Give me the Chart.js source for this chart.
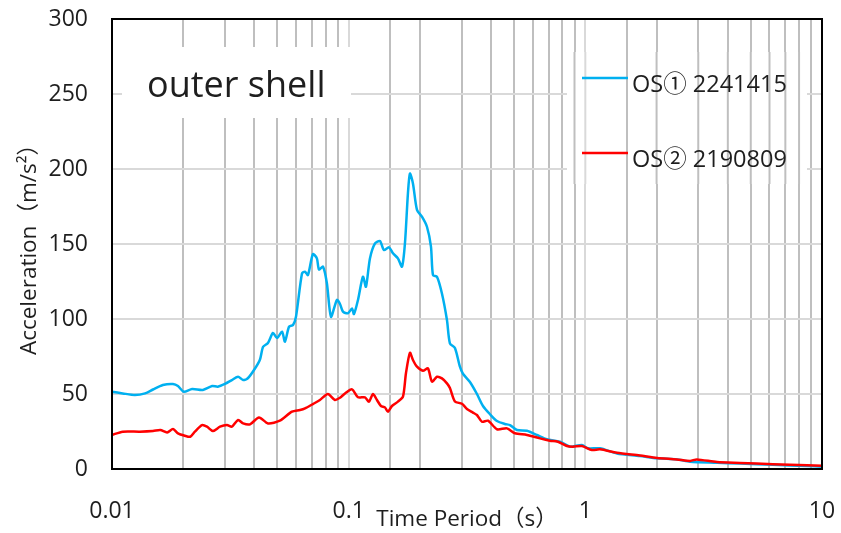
<!DOCTYPE html>
<html>
<head>
<meta charset="utf-8">
<script src="https://cdn.jsdelivr.net/npm/chart.js@4.4.1/dist/chart.umd.min.js"></script>
<style>
  html, body { margin: 0; padding: 0; background: #fff; }
</style>
</head>
<body>
<canvas id="spectrumChart" width="841" height="533"></canvas>
<script>
// response spectrum, outer shell, two records

const seriesNames = ['OS\u2460 2241415', 'OS\u2461 2190809'];
const seriesColors = ['#00b0f0', '#ff0000'];

// OS(1) 2241415  -- period (s) / acceleration (m/s2)
const periods1 = [0.01, 0.0111, 0.0125, 0.0138, 0.0149, 0.0164, 0.0181, 0.019, 0.0201, 0.0218,
  0.0242, 0.0265, 0.028, 0.030, 0.0321, 0.0341, 0.0358, 0.0375, 0.0402, 0.0422,
  0.0435, 0.0456, 0.0479, 0.0498, 0.0523, 0.0538, 0.056, 0.0582, 0.0599, 0.0635,
  0.0654, 0.0673, 0.0706, 0.0734, 0.0749, 0.0779, 0.0809, 0.0842, 0.0892, 0.0919,
  0.0946, 0.0993, 0.1033, 0.1053, 0.1095, 0.1149, 0.1183, 0.123, 0.1292, 0.1356,
  0.141, 0.148, 0.1539, 0.1615, 0.168, 0.1729, 0.178, 0.1815, 0.1869, 0.1944,
  0.204, 0.2142, 0.2227, 0.2271, 0.2361, 0.2478, 0.2602, 0.2678, 0.2812, 0.2952,
  0.304, 0.3254, 0.3484, 0.3694, 0.3955, 0.4233, 0.4575, 0.4803, 0.5141, 0.5666,
  0.6244, 0.6882, 0.7811, 0.8609, 0.9675, 1.026, 1.153, 1.36, 1.70, 2.01,
  2.44, 2.77, 3.60, 4.50, 6.20, 8.64, 10];
const accel1 = [51.5, 50.4, 49.3, 50.4, 53, 56, 56.7, 55.3, 51.5, 53.3,
  52.7, 55.3, 54.9, 56.7, 59.3, 61.5, 59.3, 60.5, 67, 73,
  81.5, 84, 90.7, 87.3, 91.5, 84.9, 94.9, 96, 101.5, 130.4,
  131.5, 129.3, 143.3, 140.4, 133, 134.9, 123.8, 101.5, 112.7, 110,
  104.9, 103.8, 107, 103.3, 112.7, 128.2, 121.5, 140.4, 150.4, 152,
  146, 147.8, 143.8, 140.4, 134.9, 150.4, 183.8, 197, 190.4, 172.7,
  168.2, 161.5, 148.2, 129.3, 128.2, 117, 99.3, 83.8, 80.7, 68.2,
  63.5, 58, 50, 42, 36.5, 32, 30, 29.3, 26, 25.5,
  22.7, 19.8, 18.2, 14.9, 16, 13.8, 13.8, 10.4, 8.7, 7.1,
  6.4, 4.9, 4.2, 3.6, 2.8, 2.0, 1.5];

// OS(2) 2190809
const periods2 = [0.01, 0.0111, 0.0131, 0.0149, 0.016, 0.0171, 0.0181, 0.019, 0.0203, 0.0214,
  0.0224, 0.024, 0.0252, 0.0267, 0.0286, 0.0306, 0.0321, 0.0341, 0.0358, 0.0383,
  0.0418, 0.0456, 0.0512, 0.0576, 0.0623, 0.0654, 0.0706, 0.0756, 0.0817, 0.0875,
  0.0919, 0.0965, 0.1033, 0.1095, 0.1172, 0.1218, 0.1267, 0.1317, 0.1369, 0.1423,
  0.1466, 0.1524, 0.1615, 0.1696, 0.1746, 0.1815, 0.1869, 0.1944, 0.206, 0.2163,
  0.2249, 0.2361, 0.2478, 0.2602, 0.2678, 0.2812, 0.301, 0.3161, 0.335, 0.3484,
  0.3658, 0.3878, 0.4233, 0.4665, 0.5042, 0.5666, 0.643, 0.7086, 0.7661, 0.8361,
  0.8863, 0.9675, 1.066, 1.153, 1.36, 1.70, 2.01, 2.44, 2.77, 2.96,
  3.60, 4.50, 6.20, 8.64, 10];
const accel2 = [22.7, 24.9, 24.9, 25.3, 26, 24.4, 26.7, 23.8, 22.2, 21.5,
  24.9, 29.3, 28.2, 25.3, 28.2, 29.3, 28.2, 32.7, 30.4, 29.8,
  34.4, 30.4, 32.2, 38.2, 39.3, 40.4, 43.3, 46, 50, 46,
  47.5, 50.4, 53.1, 47.8, 47.8, 44.9, 50, 46, 42, 41.1,
  38.2, 42, 44.9, 48.2, 63.8, 77.5, 72.7, 68.2, 65.5, 67.1,
  58.2, 61.5, 60.4, 57.1, 54, 45, 43.5, 40, 37.6, 36,
  31.5, 32.2, 26.5, 27.1, 23.8, 22.7, 20.4, 18.9, 18.2, 15.3,
  14.9, 15.3, 12.7, 13.1, 10.8, 9, 7.4, 6.4, 5.4, 6.4,
  4.6, 4, 3.2, 2.5, 2.2];

const xTickLabels = ['0.01', '0.1', '1', '10'];
const boxTitle = 'outer shell';

const fontFamily = '"Open Sans", "Noto Sans CJK SC", sans-serif';
const textColor = '#1e1e1e';

function decade(v) {
  const e = Math.log10(v);
  return Math.abs(e - Math.round(e)) < 1e-6 ? Math.round(e) : null;
}
function xGridColor(v) {
  return decade(v) !== null ? '#d9d9d9' : '#bfbfbf';
}

function toPoints(xs, ys) {
  return xs.map((x, i) => ({ x: x, y: ys[i] }));
}

// labels hanging over the plot edges should not shrink the plot
function noEdgePadding(s) {
  s.paddingLeft = 0;
  s.paddingRight = 0;
  s.paddingTop = 0;
  s.paddingBottom = 0;
}

// text box + legend drawn inside the plot, white boxes hide the grid behind them
const insideBoxes = {
  id: 'insideBoxes',
  beforeDatasetsDraw(chart) {
    const ctx = chart.ctx;
    const xs = chart.scales.x;
    ctx.save();
    ctx.fillStyle = '#fff';
    ctx.fillRect(122, 47, 229, 71);

    // legend box hides only the horizontal lines
    const lx = 567, ly = 52, lw = 240, lh = 132;
    ctx.fillRect(lx, ly, lw, lh);
    ctx.lineWidth = 2;
    xs.ticks.forEach(t => {
      const px = xs.getPixelForValue(t.value);
      if (px > lx && px < lx + lw) {
        ctx.strokeStyle = xGridColor(t.value);
        ctx.beginPath();
        ctx.moveTo(px, ly);
        ctx.lineTo(px, ly + lh);
        ctx.stroke();
      }
    });

    ctx.fillStyle = textColor;
    ctx.font = '36px ' + fontFamily;
    ctx.textBaseline = 'alphabetic';
    ctx.fillText(boxTitle, 147, 97);

    const rows = [78, 153];
    ctx.font = '23.5px ' + fontFamily;
    ctx.textBaseline = 'middle';
    chart.data.datasets.forEach((ds, i) => {
      ctx.strokeStyle = ds.borderColor;
      ctx.lineWidth = 2.5;
      ctx.beginPath();
      ctx.moveTo(582, rows[i]);
      ctx.lineTo(628, rows[i]);
      ctx.stroke();
      ctx.fillStyle = textColor;
      ctx.fillText(ds.label, 632, rows[i] + 7);
    });
    ctx.restore();
  },
  afterDraw(chart) {
    const a = chart.chartArea;
    const ctx = chart.ctx;
    ctx.save();
    ctx.strokeStyle = '#000';
    ctx.lineWidth = 2;
    ctx.strokeRect(a.left, a.top, a.right - a.left, a.bottom - a.top);
    ctx.restore();
  }
};

const ctx = document.getElementById('spectrumChart').getContext('2d');

new Chart(ctx, {
  type: 'line',
  data: {
    datasets: [
      {
        label: seriesNames[0],
        data: toPoints(periods1, accel1),
        borderColor: seriesColors[0],
        order: 1,
      },
      {
        label: seriesNames[1],
        data: toPoints(periods2, accel2),
        borderColor: seriesColors[1],
        order: 0,
      },
    ],
  },
  options: {
    responsive: false,
    animation: false,
    layout: { padding: { top: 19, right: 19, left: 0, bottom: 0 } },
    elements: {
      line: { borderWidth: 2.5, tension: 0.25, fill: false },
      point: { radius: 0 },
    },
    plugins: {
      legend: { display: false },
      tooltip: { enabled: false },
    },
    scales: {
      x: {
        type: 'logarithmic',
        min: 0.01,
        max: 10,
        afterFit: s => { s.height = 64; noEdgePadding(s); },
        grid: {
          drawTicks: false,
          lineWidth: 2,
          color: c => (c.tick ? xGridColor(c.tick.value) : '#bfbfbf'),
        },
        border: { color: '#000', width: 2 },
        ticks: {
          autoSkip: false,
          maxRotation: 0,
          padding: 29,
          color: textColor,
          font: { size: 23, family: fontFamily },
          callback: v => {
            const d = decade(v);
            return d === null ? '' : xTickLabels[d + 2];
          },
        },
        title: {
          display: true,
          text: 'Time Period\uff08s\uff09',
          color: textColor,
          font: { size: 22.5, family: fontFamily },
          padding: { top: 0, bottom: 0 },
        },
      },
      y: {
        min: 0,
        max: 300,
        afterFit: s => { s.width = 112; noEdgePadding(s); },
        grid: { drawTicks: false, lineWidth: 2, color: '#d9d9d9' },
        border: { color: '#000', width: 2 },
        ticks: {
          stepSize: 50,
          padding: 24,
          color: textColor,
          font: { size: 23, family: fontFamily },
        },
        title: {
          display: true,
          text: 'Acceleration\uff08m/s\u00b2\uff09',
          color: textColor,
          font: { size: 22.5, family: fontFamily },
          padding: { top: 16, bottom: 0 },
        },
      },
    },
  },
  plugins: [insideBoxes],
});
</script>
</body>
</html>
